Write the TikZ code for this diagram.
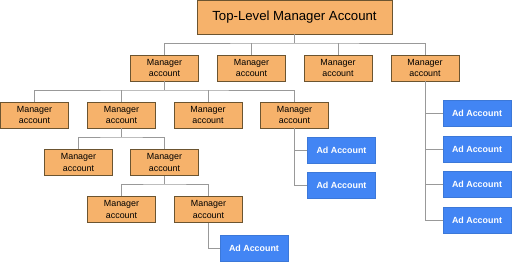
\documentclass[tikz,border=0pt]{standalone}
\usepackage{fontspec}
\setmainfont{Liberation Sans}
\definecolor{mfill}{HTML}{F6B26B}
\definecolor{mborder}{HTML}{6B5430}
\definecolor{afill}{HTML}{4285F4}
\definecolor{aborder}{HTML}{3C78D8}
\definecolor{lgrey}{HTML}{999999}
\begin{document}
\begin{tikzpicture}[x=1pt,y=-1pt,
  mgr/.style={draw=mborder,fill=mfill,line width=0.8pt,minimum width=68pt,minimum height=26pt,inner sep=0pt,align=center,font=\fontsize{8.9}{11.8}\selectfont},
  top/.style={draw=mborder,fill=mfill,line width=0.8pt,minimum width=195pt,minimum height=34pt,inner sep=0pt,font=\fontsize{13.2}{15}\selectfont},
  ad/.style={draw=aborder,fill=afill,line width=0.8pt,minimum width=68pt,minimum height=26pt,inner sep=0pt,text=white,font=\fontsize{8.9}{10}\selectfont\bfseries},
  conn/.style={draw=lgrey,line width=0.8pt}]
\useasboundingbox (0,0) rectangle (512,262);
% nodes
\node[top] (T) at (294.5,17) {Top-Level Manager Account};
\node[mgr] (M1) at (164.5,68) {Manager\\account};
\node[mgr] (M2) at (251.5,68) {Manager\\account};
\node[mgr] (M3) at (338,68) {Manager\\account};
\node[mgr] (M4) at (425,68) {Manager\\account};
\node[mgr] (L1) at (34.5,115) {Manager\\account};
\node[mgr] (L2) at (121.5,115) {Manager\\account};
\node[mgr] (L3) at (208,115) {Manager\\account};
\node[mgr] (L4) at (294.5,115) {Manager\\account};
\node[mgr] (K1) at (78.5,162.5) {Manager\\account};
\node[mgr] (K2) at (164.5,162.5) {Manager\\account};
\node[mgr] (J1) at (121.5,209.5) {Manager\\account};
\node[mgr] (J2) at (208.5,209.5) {Manager\\account};
\node[ad] (A0) at (254,248) {Ad Account};
\node[ad] (B1) at (341.5,150.5) {Ad Account};
\node[ad] (B2) at (341.5,185.5) {Ad Account};
\node[ad] (R1) at (477,113.5) {Ad Account};
\node[ad] (R2) at (477,149) {Ad Account};
\node[ad] (R3) at (477,184) {Ad Account};
\node[ad] (R4) at (477,220) {Ad Account};
% connectors
\coordinate (h0) at (294.5,43);
\draw[conn] (T.south) -- (h0);
\draw[conn] (M1.north) |- (h0) -| (M4.north);
\draw[conn] (M2.north) -- (M2.north |- h0);
\draw[conn] (M3.north) -- (M3.north |- h0);
\coordinate (h1) at (164.5,90);
\draw[conn] (M1.south) -- (h1);
\draw[conn] (L1.north) |- (h1) -| (L4.north);
\draw[conn] (L2.north) -- (L2.north |- h1);
\draw[conn] (L3.north) -- (L3.north |- h1);
\coordinate (h2) at (121.5,137);
\draw[conn] (L2.south) -- (h2);
\draw[conn] (K1.north) |- (h2) -| (K2.north);
\coordinate (h3) at (164.5,184);
\draw[conn] (K2.south) -- (h3);
\draw[conn] (J1.north) |- (h3) -| (J2.north);
\draw[conn] (J2.south) |- (A0.west);
\draw[conn] (L4.south) |- (B2.west);
\draw[conn] (L4.south |- B1.west) -- (B1.west);
\draw[conn] (M4.south) |- (R4.west);
\draw[conn] (M4.south |- R1.west) -- (R1.west);
\draw[conn] (M4.south |- R2.west) -- (R2.west);
\draw[conn] (M4.south |- R3.west) -- (R3.west);
\end{tikzpicture}
\end{document}
